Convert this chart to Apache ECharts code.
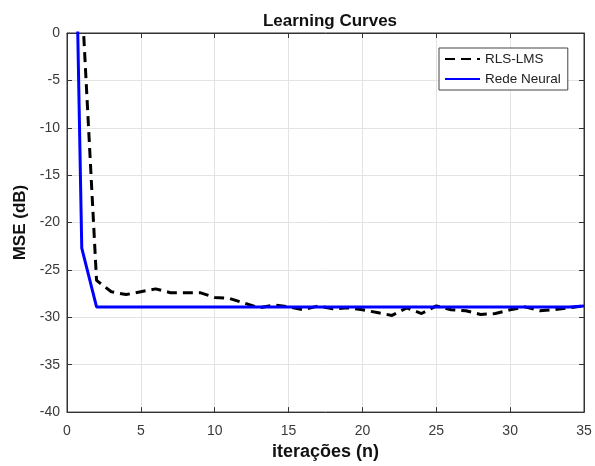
<!DOCTYPE html>
<html>
<head>
<meta charset="utf-8">
<script src="https://cdn.jsdelivr.net/npm/echarts@6/dist/echarts.min.js"></script>
<style>html,body{margin:0;padding:0;background:#fff}#c{width:595px;height:466px}</style>
</head>
<body>
<div id="c"></div>
<script>
var iterations = [0,1,2,3,4,5,6,7,8,9,10,11,12,13,14,15,16,17,18,19,20,21,22,23,24,25,26,27,28,29,30,31,32,33,34,35];
var rlsLms = [30,3.7,-26.1,-27.3,-27.6,-27.3,-27.0,-27.4,-27.4,-27.4,-27.9,-28.0,-28.5,-29.0,-28.7,-28.9,-29.2,-28.8,-29.1,-29.0,-29.2,-29.5,-29.8,-29.0,-29.6,-28.8,-29.2,-29.3,-29.7,-29.6,-29.2,-28.9,-29.3,-29.2,-29.0,-28.8];
var redeNeural = [61,-22.7,-28.9,-28.9,-28.9,-28.9,-28.9,-28.9,-28.9,-28.9,-28.9,-28.9,-28.9,-28.9,-28.9,-28.9,-28.9,-28.9,-28.9,-28.9,-28.9,-28.9,-28.9,-28.9,-28.9,-28.9,-28.9,-28.9,-28.9,-28.9,-28.9,-28.9,-28.9,-28.9,-28.9,-28.8];
var xTicks = [0,5,10,15,20,25,30,35];
var yTicks = [-40,-35,-30,-25,-20,-15,-10,-5,0];

function pairs(xs, ys){ return xs.map(function(x,i){ return [x, ys[i]]; }); }

var chart = echarts.init(document.getElementById('c'), null, {renderer:'canvas'});
var font = 'Liberation Sans, Arial, sans-serif';
var labelColor = '#3a3a3a';
var tickStyle = {show: true, inside: true, length: 5, lineStyle: {color: '#333'}};
chart.setOption({
  animation: false,
  backgroundColor: '#fff',
  title: {
    text: 'Learning Curves', left: 325, top: 8, textAlign: 'center',
    textStyle: {fontFamily: font, fontSize: 17, fontWeight: 'bold', color: '#111'}
  },
  legend: {
    orient: 'vertical', left: 439, top: 48,
    data: ['RLS-LMS','Rede Neural'],
    backgroundColor: '#fff', borderColor: '#444', borderWidth: 1,
    padding: [4, 7, 4, 5], itemGap: 6, itemWidth: 35, itemHeight: 13,
    itemStyle: {opacity: 0, borderWidth: 0},
    textStyle: {fontFamily: font, fontSize: 13.5, color: '#222'}
  },
  grid: {left: 67, right: 11, top: 33, bottom: 51, show: true, borderColor: '#333', borderWidth: 1, backgroundColor: '#fff'},
  xAxis: [{
    type: 'value', min: 0, max: 35, interval: 5,
    name: 'iterações (n)', nameLocation: 'middle', nameGap: 28,
    nameTextStyle: {fontFamily: font, fontSize: 18, fontWeight: 'bold', color: '#111'},
    axisLine: {show: true, onZero: false, lineStyle: {color: '#333'}},
    axisTick: tickStyle,
    axisLabel: {fontFamily: font, fontSize: 14, color: labelColor, margin: 12},
    splitLine: {show: true, lineStyle: {color: '#e3e3e3', width: 1}}
  },{
    type: 'value', position: 'top', min: 0, max: 35, interval: 5,
    axisLine: {show: true, onZero: false, lineStyle: {color: '#333'}},
    axisTick: tickStyle,
    axisLabel: {show: false}, splitLine: {show: false}
  }],
  yAxis: [{
    type: 'value', min: -40, max: 0, interval: 5,
    name: 'MSE (dB)', nameLocation: 'middle', nameGap: 35,
    nameTextStyle: {fontFamily: font, fontSize: 17, fontWeight: 'bold', color: '#111'},
    axisLine: {show: true, onZero: false, lineStyle: {color: '#333'}},
    axisTick: tickStyle,
    axisLabel: {fontFamily: font, fontSize: 14, color: labelColor, margin: 7},
    splitLine: {show: true, lineStyle: {color: '#e3e3e3', width: 1}}
  },{
    type: 'value', position: 'right', min: -40, max: 0, interval: 5,
    axisLine: {show: true, onZero: false, lineStyle: {color: '#333'}},
    axisTick: tickStyle,
    axisLabel: {show: false}, splitLine: {show: false}
  }],
  series: [{
    name: 'RLS-LMS', type: 'line', data: pairs(iterations, rlsLms),
    symbol: 'none', clip: true, z: 3,
    lineStyle: {color: '#000', width: 3, type: [10, 6]},
    itemStyle: {color: '#000'}
  },{
    name: 'Rede Neural', type: 'line', data: pairs(iterations, redeNeural),
    symbol: 'none', clip: true, z: 4,
    lineStyle: {color: '#0000ff', width: 3},
    itemStyle: {color: '#0000ff'}
  }]
});
</script>
</body>
</html>
